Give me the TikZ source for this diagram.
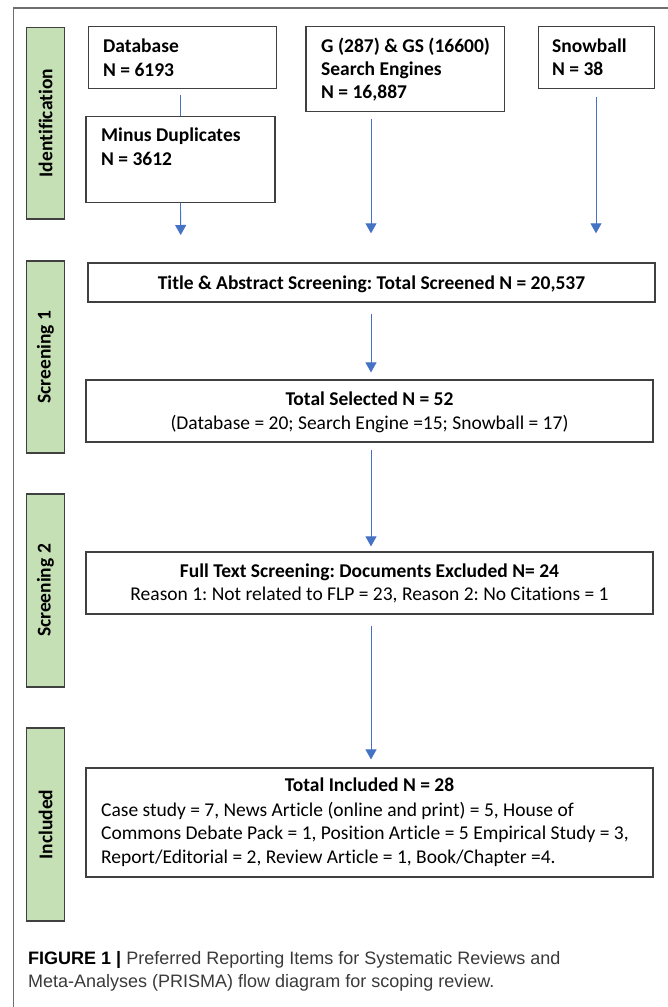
\documentclass[tikz,border=0pt]{standalone}
\usepackage{fontspec}
\setmainfont{Carlito}[Ligatures={NoCommon,TeX}]
\newfontfamily\capfont{Liberation Sans}
\usetikzlibrary{arrows.meta}
\definecolor{arrowblue}{HTML}{4472C4}
\definecolor{phasegreen}{HTML}{C5E0B4}
\definecolor{boxline}{HTML}{404040}
\definecolor{framegray}{HTML}{6E6E6E}
\definecolor{captext}{HTML}{3A3A3A}
\newcommand\boxfnt{\fontsize{19.5}{24}\selectfont}
\frenchspacing
\begin{document}
\begin{tikzpicture}[x=1pt,y=-1pt,
  box/.style={draw=boxline, line width=1.2pt, fill=white, inner sep=0pt, rectangle},
  phase/.style={draw=boxline, line width=1.2pt, fill=phasegreen, inner sep=0pt, rectangle, minimum width=37.6pt},
  phaselabel/.style={rotate=90, font=\boxfnt\bfseries, inner sep=0pt},
  txt/.style={inner sep=0pt, font=\boxfnt, anchor=base west},
  ctxt/.style={inner sep=0pt, font=\boxfnt, anchor=base},
  flow/.style={draw=arrowblue, line width=0.9pt, -{Triangle[length=10pt,width=11pt]}},
  link/.style={draw=arrowblue, line width=0.9pt}]
\useasboundingbox[fill=white] (0,0) rectangle (667,1007);
% outer frame
\draw[framegray, line width=1.2pt] (13.5,1010) -- (13.5,8) -- (670,8);
% phase bars
\node[phase, minimum height=191.7pt] (ident) at (45.5,123.2) {};
\node[phase, minimum height=192pt] (scr1) at (45.5,357) {};
\node[phase, minimum height=193pt] (scr2) at (45.5,590.5) {};
\node[phase, minimum height=193pt] (inclb) at (45.5,824.5) {};
\node[phaselabel] (identl) at (ident.center) {Identification};
\node[phaselabel] (scr1l) at (scr1.center) {Screening 1};
\node[phaselabel] (scr2l) at (scr2.center) {Screening 2};
\node[phaselabel] (incll) at (inclb.center) {Included};
% boxes
\node[box, minimum width=188.4pt, minimum height=61.6pt] (db) at (182.5,57.5) {};
\node[box, minimum width=189pt, minimum height=85.6pt] (dup) at (180.5,159.5) {};
\node[box, minimum width=198.3pt, minimum height=85pt] (gs) at (405.2,69.2) {};
\node[box, minimum width=116pt, minimum height=61.6pt] (snow) at (596.3,57.5) {};
\node[box, minimum width=567pt, minimum height=39pt] (title) at (371.5,282.5) {};
\node[box, minimum width=567pt, minimum height=62pt] (sel) at (369.5,411) {};
\node[box, minimum width=567pt, minimum height=62pt] (full) at (369.5,583) {};
\node[box, minimum width=567pt, minimum height=109pt] (incl) at (369.5,822.5) {};
% texts
\node[txt] (dbt) at (103,52.3) {\parbox[t]{170pt}{\raggedright\bfseries Database\\N = 6193}};
\node[txt] (dupt) at (101,141.7) {\parbox[t]{170pt}{\raggedright\bfseries Minus Duplicates\\N = 3612}};
\node[txt] (gst) at (321,52.7) {\parbox[t]{180pt}{\fontsize{19.5}{22.8}\selectfont\raggedright\bfseries G (287) \& GS (16600)\\Search Engines\\N = 16,887}};
\node[txt] (snowt) at (552,52.3) {\parbox[t]{100pt}{\fontsize{19.5}{23}\selectfont\raggedright\bfseries Snowball\\N = 38}};
\node[ctxt] (titlet) at (371.5,289) {\bfseries Title \& Abstract Screening: Total Screened N = 20,537};
\node[ctxt] (selt) at (369.5,405) {\parbox[t]{560pt}{\centering\bfseries Total Selected N = 52\\\mdseries (Database = 20; Search Engine =15; Snowball = 17)}};
\node[ctxt] (fullt) at (369.5,577.3) {\parbox[t]{560pt}{\fontsize{19.5}{23.5}\selectfont\centering\bfseries Full Text Screening: Documents Excluded N= 24\\\mdseries Reason 1: Not related to FLP = 23, Reason 2: No Citations = 1}};
\node[ctxt] (inclt) at (369.5,791.7) {\bfseries Total Included N = 28};
\node[txt] (inclb2) at (101,816) {\parbox[t]{560pt}{\fontsize{19.5}{23.7}\selectfont\raggedright Case study = 7, News Article (online and print) = 5, House of\\Commons Debate Pack = 1, Position Article = 5 Empirical Study = 3,\\Report/Editorial = 2, Review Article = 1, Book/Chapter =4.}};
% free arrow ends
\coordinate (e1) at (180.7,235);
\coordinate (e2) at (371,233.3);
\coordinate (e3) at (596,233.3);
% connectors
\draw[link] (dup.north |- db.south) ++(0,6) -- (dup.north);
\draw[flow] (dup.south) -- (e1);
\draw[flow] (e2 |- gs.south) ++(0,6.3) -- (e2);
\draw[flow] (e3 |- snow.south) ++(0,8.4) -- (e3);
\draw[flow, shorten <=11pt, shorten >=7pt] (e2 |- title.south) -- (e2 |- sel.north);
\draw[flow, shorten <=7pt, shorten >=5pt] (e2 |- sel.south) -- (e2 |- full.north);
\draw[flow, shorten <=11pt, shorten >=8pt] (e2 |- full.south) -- (e2 |- incl.north);
% caption
\node[anchor=base west, inner sep=0pt, font=\capfont\fontsize{18}{23}\selectfont, text=captext] (cap) at (28,964) {\parbox[t]{640pt}{\raggedright\textbf{\color{black}FIGURE 1 |} Preferred Reporting Items for Systematic Reviews and\\Meta-Analyses (PRISMA) flow diagram for scoping review.}};
\end{tikzpicture}
\end{document}
